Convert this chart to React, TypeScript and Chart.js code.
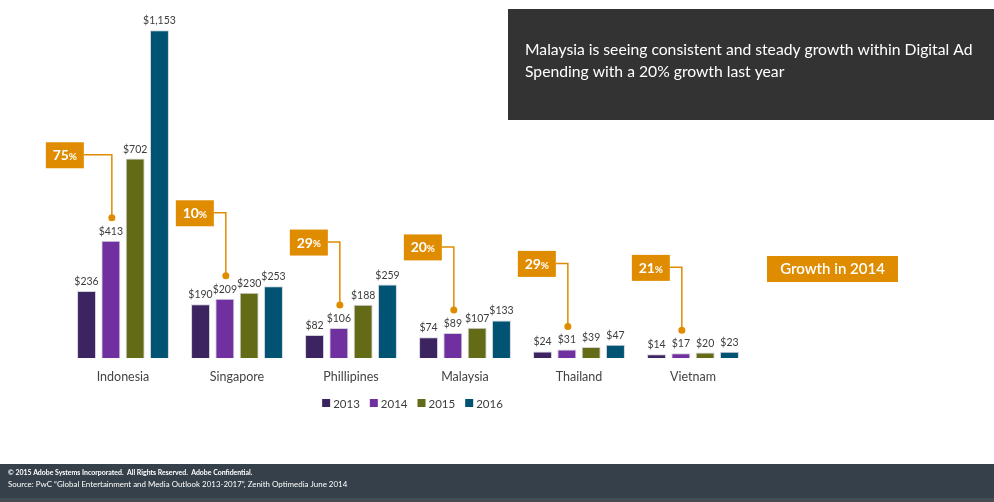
import React, { useEffect, useRef } from "react";
import { Chart, registerables } from "chart.js";

Chart.register(...registerables);

const categories = ["Indonesia", "Singapore", "Phillipines", "Malaysia", "Thailand", "Vietnam"];
const years = ["2013", "2014", "2015", "2016"];
const values2013 = [236, 190, 82, 74, 24, 14];
const values2014 = [413, 209, 106, 89, 31, 17];
const values2015 = [702, 230, 188, 107, 39, 20];
const values2016 = [1153, 253, 259, 133, 47, 23];
const growth2014 = [75, 10, 29, 20, 29, 21];
const seriesColors = ["#3b2460", "#7030a0", "#636b16", "#005373"];

const headline = [
  "Malaysia is seeing consistent and steady growth within Digital Ad",
  "Spending with a 20% growth last year",
];
const growthLabel = "Growth in 2014";
const footerLines = [
  "\u00a9 2015 Adobe Systems Incorporated.  All Rights Reserved.  Adobe Confidential.",
  "Source: PwC \u201cGlobal Entertainment and Media Outlook 2013-2017\u201d, Zenith Optimedia June 2014",
];

const ORANGE = "#e08c00";
const FONT = "Lato, 'Open Sans', sans-serif";

function fitFont(ctx: CanvasRenderingContext2D, text: string, width: number, weight: string, start: number) {
  ctx.font = `${weight} ${start}px ${FONT}`;
  const w = ctx.measureText(text).width;
  const size = (start * width) / w;
  ctx.font = `${weight} ${size}px ${FONT}`;
  return size;
}

const decorPlugin = {
  id: "decor",
  afterDatasetsDraw(chart: any) {
    const ctx: CanvasRenderingContext2D = chart.ctx;
    ctx.save();
    // value labels
    ctx.fillStyle = "#3c3c3c";
    ctx.font = `10.5px ${FONT}`;
    ctx.textAlign = "center";
    ctx.textBaseline = "alphabetic";
    chart.data.datasets.forEach((ds: any, di: number) => {
      const meta = chart.getDatasetMeta(di);
      meta.data.forEach((bar: any, i: number) => {
        const v = ds.data[i];
        ctx.fillText("$" + v.toLocaleString("en-US"), bar.x, bar.y - 6);
      });
    });

    // growth callouts anchored to the 2014 bars
    const meta14 = chart.getDatasetMeta(1);
    meta14.data.forEach((bar: any, i: number) => {
      const dotX = bar.x + 1;
      const dotY = bar.y - 23;
      const lineY = dotY - 63;
      const boxW = 38;
      const boxH = 26;
      const boxRight = dotX - (i === 0 ? 28 : 12);
      const boxLeft = boxRight - boxW;
      ctx.strokeStyle = ORANGE;
      ctx.lineWidth = 1.5;
      ctx.beginPath();
      ctx.moveTo(boxRight, lineY);
      ctx.lineTo(dotX, lineY);
      ctx.lineTo(dotX, dotY);
      ctx.stroke();
      ctx.fillStyle = ORANGE;
      ctx.beginPath();
      ctx.arc(dotX, dotY, 3.5, 0, Math.PI * 2);
      ctx.fill();
      ctx.fillRect(boxLeft, lineY - 12.5, boxW, boxH);
      ctx.fillStyle = "#ffffff";
      ctx.textBaseline = "middle";
      ctx.textAlign = "left";
      const num = String(growth2014[i]);
      ctx.font = `bold 14px ${FONT}`;
      const nw = ctx.measureText(num).width;
      ctx.font = `bold 10px ${FONT}`;
      const pw = ctx.measureText("%").width;
      const sx = boxLeft + (boxW - nw - pw) / 2;
      ctx.font = `bold 14px ${FONT}`;
      ctx.fillText(num, sx, lineY + 1);
      ctx.font = `bold 10px ${FONT}`;
      ctx.fillText("%", sx + nw, lineY + 2);
    });

    // Growth in 2014 box
    ctx.fillStyle = ORANGE;
    ctx.fillRect(767, 256, 131, 26);
    ctx.fillStyle = "#ffffff";
    ctx.textAlign = "center";
    ctx.textBaseline = "middle";
    ctx.font = `600 15px ${FONT}`;
    ctx.fillText(growthLabel, 832.5, 269.5);

    // headline box
    ctx.fillStyle = "#333333";
    ctx.fillRect(508, 9, 486, 111);
    ctx.fillStyle = "#ffffff";
    ctx.textAlign = "left";
    ctx.textBaseline = "middle";
    fitFont(ctx, headline[0], 448, "normal", 16);
    ctx.fillText(headline[0], 525, 50);
    ctx.fillText(headline[1], 525, 72);

    // legend
    ctx.font = `11.5px ${FONT}`;
    ctx.textBaseline = "middle";
    ctx.textAlign = "left";
    const box = 8;
    const gapText = 3;
    const gapItem = 10;
    const widths = years.map((y) => box + gapText + ctx.measureText(y).width);
    const total = widths.reduce((a, b) => a + b, 0) + gapItem * (years.length - 1);
    let lx = 412.5 - total / 2;
    const ly = 403.5;
    years.forEach((y, i) => {
      ctx.fillStyle = seriesColors[i];
      ctx.fillRect(lx, ly - 4.5, box, box);
      ctx.fillStyle = "#3c3c3c";
      ctx.fillText(y, lx + box + gapText, ly + 0.5);
      lx += widths[i] + gapItem;
    });

    // footer
    ctx.fillStyle = "#36404a";
    ctx.fillRect(0, 464, 994, 34);
    ctx.fillStyle = "#444c54";
    ctx.fillRect(0, 498, 994, 4);
    ctx.fillStyle = "#ffffff";
    ctx.textAlign = "left";
    ctx.textBaseline = "middle";
    fitFont(ctx, footerLines[0], 245, "bold", 8);
    ctx.fillText(footerLines[0], 8, 473);
    fitFont(ctx, footerLines[1], 340, "normal", 9.5);
    ctx.fillText(footerLines[1], 8, 484.5);
    ctx.restore();
  },
};

export default function App() {
  const ref = useRef<HTMLCanvasElement | null>(null);
  useEffect(() => {
    if (!ref.current) return;
    const datasetsValues = [values2013, values2014, values2015, values2016];
    const chart = new Chart(ref.current, {
      type: "bar",
      data: {
        labels: categories,
        datasets: years.map((y, i) => ({
          label: y,
          data: datasetsValues[i],
          backgroundColor: seriesColors[i],
          borderColor: "rgba(205,205,215,0.9)",
          borderWidth: 1,
          categoryPercentage: 0.853,
          barPercentage: 0.78,
        })),
      },
      options: {
        animation: false,
        responsive: false,
        maintainAspectRatio: false,
        devicePixelRatio: 1,
        layout: { padding: { left: 66, right: 244, top: 17, bottom: 106.8 } },
        plugins: { legend: { display: false }, tooltip: { enabled: false } },
        scales: {
          x: {
            grid: { display: false, drawTicks: false },
            border: { display: false },
            ticks: { color: "#444444", font: { family: FONT, size: 12.5 }, padding: 11 },
          },
          y: { display: false, min: 0, max: 1200 },
        },
      },
      plugins: [decorPlugin],
    });
    return () => chart.destroy();
  }, []);
  return (
    <div style={{ position: "absolute", left: 0, top: 0, width: 994, height: 502, background: "#ffffff" }}>
      <canvas ref={ref} width={994} height={502} />
    </div>
  );
}
